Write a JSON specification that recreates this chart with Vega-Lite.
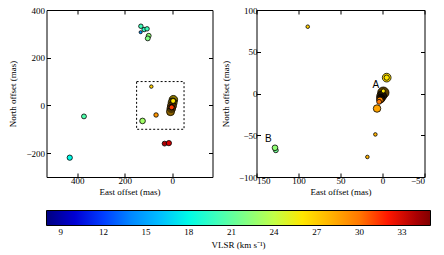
{
  "$schema": "https://vega.github.io/schema/vega-lite/v6.json",
  "padding": {"left": 7.5, "top": 5, "right": 5, "bottom": 5},
  "background": "white",
  "config": {
    "font": "Liberation Serif",
    "view": {"stroke": "black", "strokeWidth": 1},
    "axis": {"grid": false, "domain": false, "tickColor": "black", "tickSize": -4, "labelFont": "Liberation Serif", "labelFontSize": 9, "labelColor": "black", "titleFont": "Liberation Serif", "titleFontSize": 9, "titleFontWeight": "normal", "titleColor": "black", "labelPadding": 3}
  },
  "datasets": {
    "leftPts": [
      {"x": 132, "y": 332, "v": 20, "f": 2.5, "g": "spot"},
      {"x": 118, "y": 318, "v": 19.5, "f": 2.5, "g": "spot"},
      {"x": 106, "y": 321, "v": 20, "f": 2.5, "g": "spot"},
      {"x": 133, "y": 307, "v": 14.5, "f": 1.2, "g": "spot"},
      {"x": 99, "y": 292, "v": 22.5, "f": 3, "g": "spot"},
      {"x": 103, "y": 281, "v": 22, "f": 3, "g": "spot"},
      {"x": 372, "y": -46, "v": 20.5, "f": 3, "g": "spot"},
      {"x": 432, "y": -219, "v": 18, "f": 3.5, "g": "spot"},
      {"x": 88, "y": 79, "v": 27, "f": 1.5, "g": "spot"},
      {"x": 125, "y": -65, "v": 23, "f": 4, "g": "spot"},
      {"x": 68, "y": -40, "v": 29, "f": 2.5, "g": "spot"},
      {"x": 32, "y": -160, "v": 34, "f": 3, "g": "spot"},
      {"x": 14, "y": -158, "v": 33, "f": 3.5, "g": "spot"},
      {"x": -5, "y": 24, "v": 26.5, "f": 9, "g": "cluster"},
      {"x": -2, "y": 12, "v": 27, "f": 10, "g": "cluster"},
      {"x": 1, "y": -2, "v": 28.5, "f": 10, "g": "cluster"},
      {"x": 4, "y": -14, "v": 29, "f": 9, "g": "cluster"},
      {"x": 7, "y": -26, "v": 28, "f": 8, "g": "cluster"},
      {"x": -4, "y": 19, "v": 26, "f": 3, "g": "spot"},
      {"x": 2, "y": -8, "v": 31.5, "f": 3, "g": "spot"}
    ],
    "rightPts": [
      {"x": 89, "y": 80, "v": 27, "f": 1.6, "g": "spot"},
      {"x": -5, "y": 19, "v": 26.5, "f": 9.5, "g": "spot"},
      {"x": -5, "y": 19, "v": 26, "f": 3.5, "g": "spot"},
      {"x": -1, "y": 1, "v": 28, "f": 16, "g": "cluster"},
      {"x": 1, "y": -3, "v": 28.5, "f": 12, "g": "cluster"},
      {"x": 2, "y": -6, "v": 29, "f": 9, "g": "cluster"},
      {"x": 3, "y": -8, "v": 29.5, "f": 5, "g": "spot"},
      {"x": 4, "y": -10, "v": 30, "f": 3, "g": "spot"},
      {"x": -1, "y": 3, "v": 26, "f": 2, "g": "spot"},
      {"x": 6.5, "y": -18, "v": 28.5, "f": 7, "g": "spot"},
      {"x": 8.5, "y": -49, "v": 28, "f": 1.6, "g": "spot"},
      {"x": 18, "y": -76, "v": 28, "f": 1.6, "g": "spot"},
      {"x": 127, "y": -68, "v": 21.5, "f": 3, "g": "spot"},
      {"x": 128, "y": -65, "v": 22.5, "f": 4, "g": "spot"}
    ],
    "labels": [
      {"x": 8, "y": 9.6, "t": "A"},
      {"x": 136, "y": -55, "t": "B"}
    ],
    "box": [{"x1": 150, "x2": -50, "y1": -100, "y2": 100}]
  },
  "hconcat": [
    {
      "width": 166,
      "height": 167,
      "layer": [
        {
          "data": {"name": "box"},
          "mark": {"type": "rect", "fill": null, "stroke": "black", "strokeDash": [2, 2], "strokeWidth": 1},
          "encoding": {
            "x": {"field": "x1", "type": "quantitative", "scale": {"domain": [530, -170], "nice": false, "zero": false}, "axis": {"orient": "top", "labels": false, "title": null, "values": [400, 200, 0]}},
            "x2": {"field": "x2"},
            "y": {"field": "y1", "type": "quantitative", "scale": {"domain": [-300, 400], "nice": false, "zero": false}, "axis": {"orient": "right", "labels": false, "title": null, "values": [-200, 0, 200, 400]}},
            "y2": {"field": "y2"}
          }
        },
        {
          "data": {"name": "leftPts"},
          "transform": [{"filter": "datum.g === 'cluster'"}],
          "mark": {"type": "circle", "stroke": "black", "strokeWidth": 0.8, "opacity": 1},
          "encoding": {
            "x": {"field": "x", "type": "quantitative", "axis": {"orient": "bottom", "title": "East offset (mas)", "values": [400, 200, 0], "labelPadding": 3, "titlePadding": 2}},
            "y": {"field": "y", "type": "quantitative", "axis": {"orient": "left", "title": "North offset (mas)", "values": [-200, 0, 200, 400], "labelPadding": 6, "titlePadding": 8}},
            "color": {
              "field": "v", "type": "quantitative",
              "scale": {"domain": [8, 10.97, 11.375, 17.18, 17.45, 18.125, 25.28, 25.55, 25.82, 32.03, 32.57, 35], "range": ["#000080", "#0000ff", "#0000ff", "#00dbff", "#00e6f7", "#14ffe2", "#eeff08", "#f7f500", "#ffec00", "#ff1300", "#e80000", "#800000"]},
              "legend": {"orient": "none", "legendX": 0, "legendY": 200.5, "direction": "horizontal", "gradientLength": 384, "gradientThickness": 15, "values": [9, 12, 15, 18, 21, 24, 27, 30, 33], "title": "VLSR (km s⁻¹)", "titleOrient": "bottom", "titleAnchor": "middle", "labelFont": "Liberation Serif", "labelFontSize": 9, "labelColor": "black", "titleFont": "Liberation Serif", "titleFontSize": 9, "titleFontWeight": "normal", "titleColor": "black", "gradientStrokeColor": "black", "gradientStrokeWidth": 1, "labelOffset": 2, "titlePadding": 4, "padding": 0, "offset": 0, "labelOverlap": false, "encode": {"gradient": {"update": {"opacity": {"value": 1}}}}}
            },
            "size": {"field": "f", "type": "quantitative", "scale": {"domain": [0, 20], "range": [0, 160]}, "legend": null}
          }
        },
        {
          "data": {"name": "leftPts"},
          "transform": [{"filter": "datum.g === 'cluster'"}],
          "mark": {"type": "circle", "fill": "black", "opacity": 0.45},
          "encoding": {
            "x": {"field": "x", "type": "quantitative", "axis": null},
            "y": {"field": "y", "type": "quantitative", "axis": null},
            "size": {"field": "f", "type": "quantitative", "legend": null}
          }
        },
        {
          "data": {"name": "leftPts"},
          "transform": [{"filter": "datum.g === 'spot'"}],
          "mark": {"type": "circle", "stroke": "black", "strokeWidth": 0.8, "opacity": 1},
          "encoding": {
            "x": {"field": "x", "type": "quantitative", "axis": null},
            "y": {"field": "y", "type": "quantitative", "axis": null},
            "color": {"field": "v", "type": "quantitative"},
            "size": {"field": "f", "type": "quantitative", "legend": null}
          }
        }
      ],
      "resolve": {"axis": {"x": "independent", "y": "independent"}}
    },
    {
      "width": 168,
      "height": 167,
      "layer": [
        {
          "data": {"name": "box"},
          "mark": {"type": "rect", "opacity": 0},
          "encoding": {
            "x": {"field": "x1", "type": "quantitative", "scale": {"domain": [150, -50], "nice": false, "zero": false}, "axis": {"orient": "top", "labels": false, "title": null, "values": [150, 100, 50, 0, -50]}},
            "x2": {"field": "x2"},
            "y": {"field": "y1", "type": "quantitative", "scale": {"domain": [-100, 100], "nice": false, "zero": false}, "axis": {"orient": "right", "labels": false, "title": null, "values": [-100, -50, 0, 50, 100]}},
            "y2": {"field": "y2"}
          }
        },
        {
          "data": {"name": "rightPts"},
          "transform": [{"filter": "datum.g === 'cluster'"}],
          "mark": {"type": "circle", "stroke": "black", "strokeWidth": 0.8, "opacity": 1},
          "encoding": {
            "x": {"field": "x", "type": "quantitative", "axis": {"orient": "bottom", "title": "East offset (mas)", "values": [150, 100, 50, 0, -50], "labelPadding": 3, "titlePadding": 2}},
            "y": {"field": "y", "type": "quantitative", "axis": {"orient": "left", "title": "North offset (mas)", "values": [-100, -50, 0, 50, 100], "labelPadding": 3.5, "titlePadding": 7.5}},
            "color": {"field": "v", "type": "quantitative"},
            "size": {"field": "f", "type": "quantitative", "legend": null}
          }
        },
        {
          "data": {"name": "rightPts"},
          "transform": [{"filter": "datum.g === 'cluster'"}],
          "mark": {"type": "circle", "fill": "black", "opacity": 0.65},
          "encoding": {
            "x": {"field": "x", "type": "quantitative", "axis": null},
            "y": {"field": "y", "type": "quantitative", "axis": null},
            "size": {"field": "f", "type": "quantitative", "legend": null}
          }
        },
        {
          "data": {"name": "rightPts"},
          "transform": [{"filter": "datum.g === 'spot'"}],
          "mark": {"type": "circle", "stroke": "black", "strokeWidth": 0.8, "opacity": 1},
          "encoding": {
            "x": {"field": "x", "type": "quantitative", "axis": null},
            "y": {"field": "y", "type": "quantitative", "axis": null},
            "color": {"field": "v", "type": "quantitative"},
            "size": {"field": "f", "type": "quantitative", "legend": null}
          }
        },
        {
          "data": {"name": "labels"},
          "mark": {"type": "text", "font": "Liberation Sans", "fontSize": 10, "color": "black"},
          "encoding": {
            "x": {"field": "x", "type": "quantitative", "axis": null},
            "y": {"field": "y", "type": "quantitative", "axis": null},
            "text": {"field": "t"}
          }
        }
      ],
      "resolve": {"axis": {"x": "independent", "y": "independent"}}
    }
  ],
  "spacing": 7,
  "resolve": {"scale": {"color": "shared", "size": "shared"}}
}
